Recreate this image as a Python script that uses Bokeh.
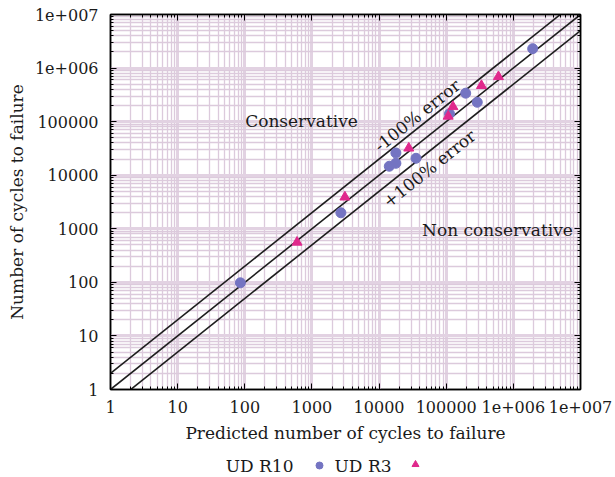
import math
from bokeh.plotting import figure
from bokeh.layouts import column
from bokeh.models import (LogAxis, FixedTicker, Grid, Range1d, Label)
from bokeh.core.properties import value
from bokeh.embed import file_html
from bokeh.resources import INLINE

# --- data -------------------------------------------------------------
# UD R10 specimens: predicted vs experimental cycles to failure
r10_pred = [86, 2700, 14200, 17800, 17800, 35500, 112000, 195000, 290000, 1940000]
r10_exp = [98, 1990, 14700, 16700, 26000, 20700, 140000, 340000, 230000, 2300000]

# UD R3 specimens
r3_pred = [600, 3100, 27700, 107000, 126000, 335000, 600000]
r3_exp = [560, 3900, 32000, 126000, 190000, 470000, 690000]

# reference lines y = k * x (perfect prediction and factor-2 band)
band_factors = [1.0, 2.0, 0.5]
line_x = [1, 1e7]

decades = [1, 10, 100, 1000, 10000, 100000, 1000000, 10000000]
tick_labels = ["1", "10", "100", "1000", "10000", "100000", "1e+006", "1e+007"]

FONT = "DejaVu Serif"
TXT = "#1a1a1a"
GRID_MAJOR = "#e2d2e2"
GRID_MINOR = "#dccadc"
BLUE = "#7474c2"
MAGENTA = "#e0288c"

LEFT, RIGHT = 110, 35

minor = [m * d for d in decades[:-1] for m in range(2, 10)]

p = figure(width=615, height=447, x_axis_type="log", y_axis_type="log",
           x_range=Range1d(1, 1e7), y_range=Range1d(1, 1e7),
           output_backend="svg", toolbar_location=None,
           min_border_left=LEFT, min_border_right=RIGHT,
           min_border_top=14, min_border_bottom=58)
p.background_fill_color = "white"
p.border_fill_color = "white"
p.outline_line_color = "black"
p.outline_line_width = 1.5

# grid: every minor line plus heavier decade lines
p.grid.visible = False
for dim in (0, 1):
    p.add_layout(Grid(dimension=dim, ticker=FixedTicker(ticks=minor),
                      grid_line_color=GRID_MINOR, grid_line_width=1.3))
    p.add_layout(Grid(dimension=dim, ticker=FixedTicker(ticks=decades),
                      grid_line_color=GRID_MAJOR, grid_line_width=3))

overrides = {d: lab for d, lab in zip(decades, tick_labels)}


def style_axis(ax, labels=True):
    ax.ticker = FixedTicker(ticks=decades, minor_ticks=minor)
    ax.major_tick_in = 6
    ax.major_tick_out = 0
    ax.minor_tick_in = 3
    ax.minor_tick_out = 0
    ax.axis_line_color = "black"
    ax.axis_line_width = 1.5
    ax.major_tick_line_color = "black"
    ax.minor_tick_line_color = "black"
    if labels:
        ax.major_label_overrides = overrides
        ax.major_label_text_font = FONT
        ax.major_label_text_font_size = "16px"
        ax.major_label_text_color = TXT
        ax.axis_label_text_font = FONT
        ax.axis_label_text_font_size = "17px"
        ax.axis_label_text_font_style = "normal"
        ax.axis_label_text_color = TXT
    else:
        ax.major_label_text_font_size = "1px"
        ax.major_label_text_color = None
        ax.major_label_standoff = 0


style_axis(p.xaxis[0])
style_axis(p.yaxis[0])
p.xaxis[0].axis_label = "Predicted number of cycles to failure"
p.yaxis[0].axis_label = "Number of cycles to failure"
p.xaxis[0].major_label_standoff = 11
p.yaxis[0].major_label_standoff = 12
p.xaxis[0].axis_label_standoff = 7
p.yaxis[0].axis_label_standoff = 5

top_ax = LogAxis()
right_ax = LogAxis()
style_axis(top_ax, labels=False)
style_axis(right_ax, labels=False)
p.add_layout(top_ax, "above")
p.add_layout(right_ax, "right")

# prediction band lines
for k in band_factors:
    p.line(line_x, [k * x for x in line_x], line_color="#1e1e1e", line_width=1.6)

p.scatter(r10_pred, r10_exp, marker="circle", size=10, fill_color=BLUE,
          line_color=BLUE)
p.scatter(r3_pred, r3_exp, marker="triangle", size=10, fill_color=MAGENTA,
          line_color=MAGENTA)

# region annotations
for txt, x, y in [("Conservative", 700, 1.05e5), ("Non conservative", 5.8e5, 930)]:
    p.add_layout(Label(x=x, y=y, text=txt, text_font=FONT, text_font_size="17px",
                       text_align="center", text_baseline="middle",
                       text_color=TXT))

ang = math.atan(375 / 470)
for txt, x, y in [("-100% error", 37000, 1.3e5), ("+100% error", 56000, 1.33e4)]:
    p.add_layout(Label(x=x, y=y, text=txt, text_font=FONT, text_font_size="17px",
                       text_align="center", text_baseline="middle", angle=ang,
                       text_color=TXT))

# legend strip: label text followed by its marker sample; x is in page pixels
leg = figure(width=615, height=30, x_range=Range1d(LEFT, 615 - RIGHT),
             y_range=Range1d(0, 30), output_backend="svg", toolbar_location=None,
             min_border_left=LEFT, min_border_right=RIGHT,
             min_border_top=0, min_border_bottom=0)
leg.axis.visible = False
leg.grid.visible = False
leg.outline_line_color = None
leg.background_fill_color = "white"
leg.border_fill_color = "white"
leg.text(x=[293, 391], y=[12, 12], text=["UD R10", "UD R3"],
         text_font=value(FONT), text_font_size="17px", text_align="right",
         text_baseline="middle", text_color=TXT)
leg.scatter(x=[319], y=[12], marker="circle", size=7, fill_color=BLUE, line_color=BLUE)
leg.scatter(x=[415], y=[13], marker="triangle", size=7, fill_color=MAGENTA,
            line_color=MAGENTA)

layout = column(p, leg, spacing=0)
open("out.html", "w").write(file_html(layout, INLINE))
